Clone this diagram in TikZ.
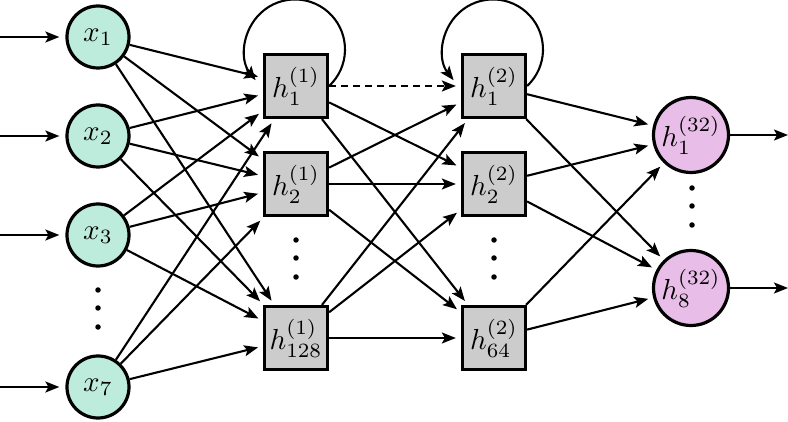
\documentclass[tikz,border=0pt]{standalone}
\usetikzlibrary{arrows.meta}
\definecolor{ingreen}{RGB}{190,236,220}
\definecolor{boxgray}{RGB}{204,204,204}
\definecolor{outpink}{RGB}{232,190,232}
\newcommand{\biglbl}[1]{\scalebox{2.9}{$#1$}}
\begin{document}
\begin{tikzpicture}[x=1pt,y=1pt,
 innode/.style={circle, draw, line width=3.2pt, fill=ingreen, minimum size=62pt, inner sep=0pt},
 hbox/.style={rectangle, draw, line width=3.2pt, fill=boxgray, minimum size=63pt, inner sep=0pt},
 outnode/.style={circle, draw, line width=3.2pt, fill=outpink, minimum size=75pt, inner sep=0pt},
 conn/.style={line width=2.1pt, -{Stealth[length=14pt,width=11pt,inset=3pt]}, shorten >=5pt},
 dotmark/.style={circle, fill, inner sep=0pt, minimum size=5.5pt}
]
\useasboundingbox (0,0) rectangle (788,421);
% input nodes
\node[innode] (x1) at (98,384) {\biglbl{x_1}};
\node[innode] (x2) at (98,285) {\biglbl{x_2}};
\node[innode] (x3) at (98,186) {\biglbl{x_3}};
\node[innode] (x7) at (98,34) {\biglbl{x_7}};
\node[dotmark] (xd1) at (98,131) {};
\node[dotmark] (xd2) at (98,113) {};
\node[dotmark] (xd3) at (98,94) {};
% layer 1
\node[hbox] (h11) at (296,335) {\biglbl{h^{(1)}_1}};
\node[hbox] (h21) at (296,237) {\biglbl{h^{(1)}_2}};
\node[hbox] (h1281) at (296,83) {\biglbl{h^{(1)}_{128}}};
\node[dotmark] (ad1) at (296,181) {};
\node[dotmark] (ad2) at (296,163) {};
\node[dotmark] (ad3) at (296,144) {};
% layer 2
\node[hbox] (h12) at (494,335) {\biglbl{h^{(2)}_1}};
\node[hbox] (h22) at (494,237) {\biglbl{h^{(2)}_2}};
\node[hbox] (h642) at (494,83) {\biglbl{h^{(2)}_{64}}};
\node[dotmark] (bd1) at (494,181) {};
\node[dotmark] (bd2) at (494,163) {};
\node[dotmark] (bd3) at (494,144) {};
% output
\node[outnode] (o1) at (691,286) {\biglbl{h^{(32)}_1}};
\node[outnode] (o8) at (691,133) {\biglbl{h^{(32)}_8}};
\node[dotmark] (od1) at (692,233) {};
\node[dotmark] (od2) at (692,215) {};
\node[dotmark] (od3) at (692,196) {};
% in/out coordinates
\coordinate (i1) at (0,384);
\coordinate (i2) at (0,285);
\coordinate (i3) at (0,186);
\coordinate (i7) at (0,34);
\coordinate (e1) at (788,286);
\coordinate (e8) at (788,133);
\foreach \a/\b in {i1/x1,i2/x2,i3/x3,i7/x7} \draw[conn, shorten >=6pt] (\a) -- (\b);
\draw[conn, shorten >=0pt] (o1) -- (e1);
\draw[conn, shorten >=0pt] (o8) -- (e8);
% input -> layer 1
\foreach \a in {x1,x2,x3,x7} \foreach \b in {h11,h21,h1281} \draw[conn] (\a) -- (\b);
% layer 1 -> layer 2
\draw[conn, dash pattern=on 7pt off 5pt] (h11) -- (h12);
\foreach \b in {h22,h642} \draw[conn] (h11) -- (\b);
\foreach \a in {h21,h1281} \foreach \b in {h12,h22,h642} \draw[conn] (\a) -- (\b);
% layer 2 -> output
\foreach \a in {h12,h22,h642} \foreach \b in {o1,o8} \draw[conn] (\a) -- (\b);
% self loops
\draw[conn, shorten >=0pt] (h11.east) arc[start angle=-47, end angle=218, radius=50pt];
\draw[conn, shorten >=0pt] (h12.east) arc[start angle=-47, end angle=218, radius=50pt];
\end{tikzpicture}
\end{document}
